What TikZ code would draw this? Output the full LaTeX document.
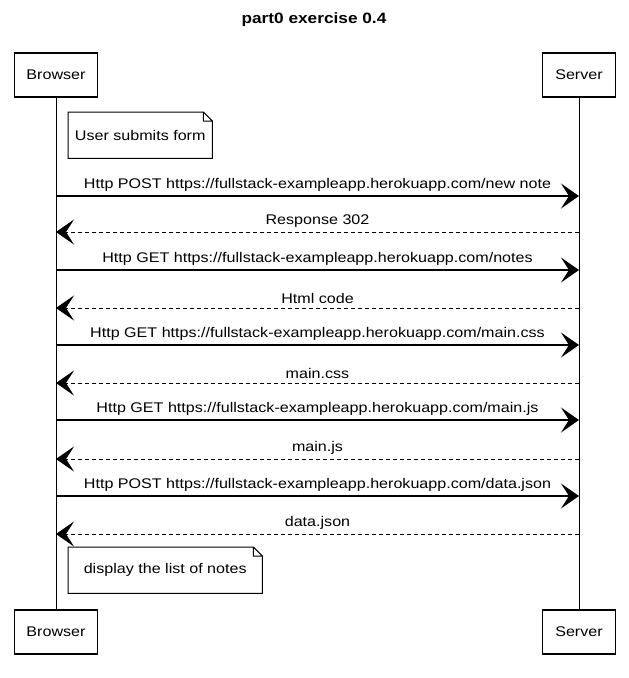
\documentclass[tikz,border=0pt]{standalone}
\usepackage{fontspec}
\setmainfont[FakeStretch=1.15]{Liberation Sans}
\usetikzlibrary{arrows.meta}
\begin{document}
\begin{tikzpicture}[x=1pt,y=-1pt,
  actor/.style={draw,line width=1.2pt,minimum height=44pt,font=\fontsize{14}{16}\selectfont},
  life/.style={line width=0.7pt},
  req/.style={line width=1.2pt,-{Stealth[length=18pt,width=25pt,inset=8pt]}},
  resp/.style={req,line width=1pt,dash pattern=on 4pt off 3pt},
  lbl/.style={above=1pt,font=\fontsize{14}{16}\selectfont},
  notebox/.style={anchor=north west,minimum height=46pt,inner sep=6pt,font=\fontsize{14}{16}\selectfont}
]
\useasboundingbox (0,0) rectangle (629,678);
%
% Title
\node[font=\bfseries\fontsize{15}{17}\selectfont] (title) at (314,20) {part0 exercise 0.4};
%
% Actors
\node[actor,minimum width=83pt] (bt) at (56,75)  {Browser};
\node[actor,minimum width=73pt] (st) at (579,75) {Server};
\node[actor,minimum width=83pt] (bb) at (56,632) {Browser};
\node[actor,minimum width=73pt] (sb) at (579,632) {Server};
%
% Lifelines
\draw[life] (bt) -- (bb);
\draw[life] (st) -- (sb);
%
% Notes
\node[notebox,minimum width=144pt] (n1) at (68,112) {User submits form};
\node[notebox,minimum width=194pt] (n2) at (68,547) {display the list of notes};
\foreach \n in {n1,n2}
  \draw[line width=1pt] (\n.north west) -- ([xshift=-9pt]\n.north east)
        -- ([yshift=-9pt]\n.north east) -- (\n.south east)
        -- (\n.south west) -- cycle
        ([xshift=-9pt]\n.north east) |- ([yshift=-9pt]\n.north east);
%
% Messages
\draw[req]  (bt |- 0,196) -- node[lbl]{Http POST https://fullstack-exampleapp.herokuapp.com/new note} (st |- 0,196);
\draw[resp] (st |- 0,232) -- node[lbl]{Response 302} (bt |- 0,232);
\draw[req]  (bt |- 0,270) -- node[lbl]{Http GET https://fullstack-exampleapp.herokuapp.com/notes} (st |- 0,270);
\draw[resp] (st |- 0,308) -- node[lbl]{Html code} (bt |- 0,308);
\draw[req]  (bt |- 0,345) -- node[lbl]{Http GET https://fullstack-exampleapp.herokuapp.com/main.css} (st |- 0,345);
\draw[resp] (st |- 0,383) -- node[lbl]{main.css} (bt |- 0,383);
\draw[req]  (bt |- 0,420) -- node[lbl]{Http GET https://fullstack-exampleapp.herokuapp.com/main.js} (st |- 0,420);
\draw[resp] (st |- 0,459) -- node[lbl]{main.js} (bt |- 0,459);
\draw[req]  (bt |- 0,496) -- node[lbl]{Http POST https://fullstack-exampleapp.herokuapp.com/data.json} (st |- 0,496);
\draw[resp] (st |- 0,534) -- node[lbl]{data.json} (bt |- 0,534);
%
\end{tikzpicture}
\end{document}
